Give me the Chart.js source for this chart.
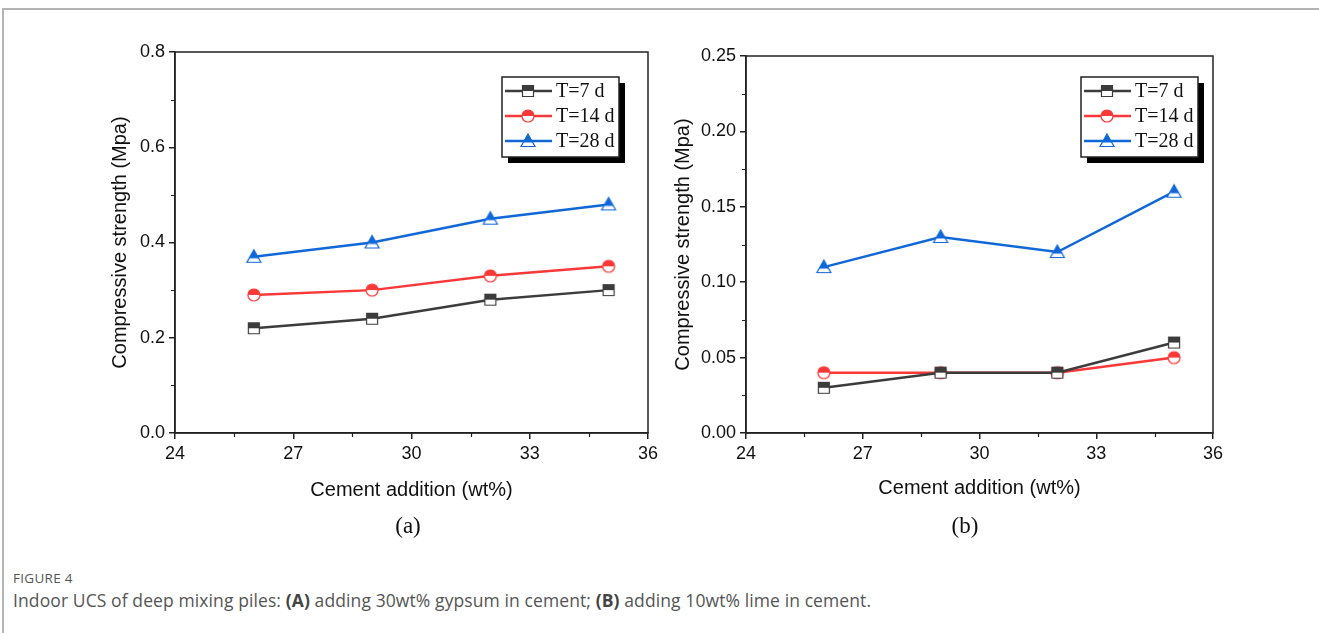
<!DOCTYPE html>
<html>
<head>
<meta charset="utf-8">
<title>Indoor UCS of deep mixing piles</title>
<script src="https://cdn.jsdelivr.net/npm/chart.js@4.4.1/dist/chart.umd.min.js"></script>
<style>
    body { margin: 0; background: #fff; }
    #page { position: relative; width: 1319px; height: 633px; overflow: hidden; }
    #frame { position: absolute; left: 2px; top: 8px; right: 0; bottom: 0; border-top: 2px solid #b4b4b4; border-left: 2px solid #b4b4b4; }
    canvas { position: absolute; }
    #chartA { left: 90px; top: 30px; }
    #chartB { left: 660px; top: 30px; }
    .panel { position: absolute; top: 513px; width: 60px; text-align: center; font: 23px 'Liberation Serif', serif; color: #111; }
    #figLabel { position: absolute; left: 13px; top: 569px; font: 13.5px 'Open Sans', sans-serif; color: #555; letter-spacing: 0.3px; }
    #figText { position: absolute; left: 13px; top: 588px; font: 17.5px 'Open Sans', sans-serif; color: #555; white-space: nowrap; letter-spacing: 0.1px; }
    #figText b { color: #444; }
</style>
</head>
<body>
<div id="page">
    <div id="frame"></div>
    <canvas id="chartA" width="580" height="490"></canvas>
    <canvas id="chartB" width="580" height="490"></canvas>
    <div class="panel" style="left:378px">(a)</div>
    <div class="panel" style="left:935px">(b)</div>
    <div id="figLabel">FIGURE 4</div>
    <div id="figText">Indoor UCS of deep mixing piles: <b>(A)</b> adding 30wt% gypsum in cement; <b>(B)</b> adding 10wt% lime in cement.</div>
</div>
<script>
// Curing times and cement dosages
const seriesLabels = ['T=7 d', 'T=14 d', 'T=28 d'];
const cementAddition = [26, 29, 32, 35];

// (a) 30wt% gypsum in cement, UCS in MPa
const gypsum7d = [0.22, 0.24, 0.28, 0.30];
const gypsum14d = [0.29, 0.30, 0.33, 0.35];
const gypsum28d = [0.37, 0.40, 0.45, 0.48];

// (b) 10wt% lime in cement, UCS in MPa
const lime7d = [0.03, 0.04, 0.04, 0.06];
const lime14d = [0.04, 0.04, 0.04, 0.05];
const lime28d = [0.11, 0.13, 0.12, 0.16];

// Axis ranges
const xRange = { min: 24, max: 36, step: 3 };
const yRangeA = { min: 0, max: 0.8, step: 0.2 };
const yRangeB = { min: 0, max: 0.25, step: 0.05 };

const seriesColors = ['#3c3c3c', '#fa3838', '#1068d8'];
const axisColor = '#222';

// Half-filled marker (top half solid, bottom half open) as an image
function makeMarker(shape, color) {
    const s = 18;
    const c = document.createElement('canvas');
    c.width = s; c.height = s;
    const ctx = c.getContext('2d');
    const cx = s / 2, cy = s / 2;

    function path() {
        ctx.beginPath();
        if (shape === 'square') {
            ctx.rect(cx - 5.5, cy - 5.5, 11, 11);
        } else if (shape === 'circle') {
            ctx.arc(cx, cy, 6, 0, Math.PI * 2);
        } else {
            ctx.moveTo(cx, cy - 7);
            ctx.lineTo(cx + 7, cy + 5.5);
            ctx.lineTo(cx - 7, cy + 5.5);
            ctx.closePath();
        }
    }

    path();
    ctx.fillStyle = '#fff';
    ctx.fill();

    ctx.save();
    ctx.beginPath();
    ctx.rect(0, 0, s, shape === 'triangle' ? cy + 1.5 : cy);
    ctx.clip();
    path();
    ctx.fillStyle = color;
    ctx.fill();
    ctx.restore();

    path();
    ctx.lineWidth = 1.2;
    ctx.strokeStyle = color;
    ctx.stroke();
    return c;
}

const markers = [
    makeMarker('square', seriesColors[0]),
    makeMarker('circle', seriesColors[1]),
    makeMarker('triangle', seriesColors[2])
];

function toPoints(values) {
    return values.map((v, i) => ({ x: cementAddition[i], y: v }));
}

function buildDatasets(series) {
    return series.map((values, i) => ({
        label: seriesLabels[i],
        data: toPoints(values),
        borderColor: seriesColors[i],
        backgroundColor: seriesColors[i],
        borderWidth: 2.5,
        pointStyle: markers[i],
        pointRadius: 6,
        tension: 0
    }));
}

// Closed frame around the plot area plus minor ticks on x and y
const framePlugin = {
    id: 'frame',
    afterDraw(chart, args, opts) {
        const { ctx, chartArea } = chart;
        ctx.save();
        ctx.strokeStyle = axisColor;
        ctx.lineWidth = 1.5;
        ctx.strokeRect(chartArea.left, chartArea.top, chartArea.right - chartArea.left, chartArea.bottom - chartArea.top);

        // minor ticks halfway between the labelled ones
        const xs = chart.scales.x, ys = chart.scales.y;
        ctx.lineWidth = 1.2;
        ctx.beginPath();
        for (let v = xs.min + opts.xMinor; v < xs.max; v += opts.xMinor * 2) {
            const px = Math.round(xs.getPixelForValue(v)) + 0.5;
            ctx.moveTo(px, chartArea.bottom);
            ctx.lineTo(px, chartArea.bottom + 4);
        }
        for (let v = ys.min + opts.yMinor; v < ys.max; v += opts.yMinor * 2) {
            const py = Math.round(ys.getPixelForValue(v)) + 0.5;
            ctx.moveTo(chartArea.left, py);
            ctx.lineTo(chartArea.left - 4, py);
        }
        ctx.stroke();
        ctx.restore();
    }
};

// Boxed legend with drop shadow in the upper right of the plot
const boxLegendPlugin = {
    id: 'boxLegend',
    afterDraw(chart, args, opts) {
        const { ctx, chartArea } = chart;
        const w = 117, h = 80, shadow = 6;
        const x = chartArea.right - opts.right - w;
        const y = chartArea.top + opts.top;

        ctx.save();
        ctx.fillStyle = '#000';
        ctx.fillRect(x + shadow, y + shadow, w, h);
        ctx.fillStyle = '#fff';
        ctx.fillRect(x, y, w, h);
        ctx.strokeStyle = axisColor;
        ctx.lineWidth = 1.5;
        ctx.strokeRect(x, y, w, h);

        ctx.font = "20px 'Liberation Serif'";
        ctx.textBaseline = 'middle';
        chart.data.datasets.forEach((ds, i) => {
            const rowY = y + 14 + i * 25;
            ctx.strokeStyle = ds.borderColor;
            ctx.lineWidth = 2.5;
            ctx.beginPath();
            ctx.moveTo(x + 3, rowY);
            ctx.lineTo(x + 50, rowY);
            ctx.stroke();
            const img = ds.pointStyle;
            ctx.drawImage(img, x + 26 - img.width / 2, rowY - img.height / 2);
            ctx.fillStyle = '#111';
            ctx.fillText(ds.label, x + 54, rowY + 1);
        });
        ctx.restore();
    }
};

function axisOptions(range, decimals, layout) {
    const tickFont = { family: 'Liberation Sans', size: 18 };
    const titleFont = { family: 'Liberation Sans', size: 20 };
    return {
        x: {
            type: 'linear',
            min: xRange.min,
            max: xRange.max,
            afterFit: s => { s.height = layout.xHeight; },
            ticks: { stepSize: xRange.step, font: tickFont, color: '#111', padding: 4, maxRotation: 0 },
            grid: { drawOnChartArea: false, tickLength: 6, color: axisColor, lineWidth: 1.5 },
            border: { display: true, color: axisColor, width: 1.5 },
            title: { display: true, text: 'Cement addition (wt%)', font: titleFont, color: '#111', padding: { top: 0, bottom: layout.xTitlePad } }
        },
        y: {
            min: range.min,
            max: range.max,
            afterFit: s => { s.width = layout.yWidth; },
            ticks: {
                stepSize: range.step,
                font: tickFont,
                color: '#111',
                padding: 4,
                callback: v => Number(v).toFixed(decimals)
            },
            grid: { drawOnChartArea: false, tickLength: 6, color: axisColor, lineWidth: 1.5 },
            border: { display: true, color: axisColor, width: 1.5 },
            title: { display: true, text: 'Compressive strength (Mpa)', font: titleFont, color: '#111', padding: { top: layout.yTitlePad, bottom: 0 } }
        }
    };
}

function renderChart(canvasId, series, range, decimals, layout, legendPos) {
    new Chart(document.getElementById(canvasId), {
        type: 'line',
        data: { datasets: buildDatasets(series) },
        options: {
            responsive: false,
            animation: false,
            devicePixelRatio: 1,
            layout: { padding: layout.padding },
            scales: axisOptions(range, decimals, layout),
            plugins: {
                legend: { display: false },
                tooltip: { enabled: false },
                frame: { xMinor: 1.5, yMinor: range.step / 2 },
                boxLegend: legendPos
            }
        },
        plugins: [framePlugin, boxLegendPlugin]
    });
}

renderChart('chartA', [gypsum7d, gypsum14d, gypsum28d], yRangeA, 1,
    { padding: { top: 22, right: 22, bottom: 0, left: 0 }, xHeight: 87, yWidth: 85, xTitlePad: 18, yTitlePad: 18 },
    { right: 29, top: 25 });

renderChart('chartB', [lime7d, lime14d, lime28d], yRangeB, 2,
    { padding: { top: 26, right: 27, bottom: 0, left: 0 }, xHeight: 87, yWidth: 86, xTitlePad: 20, yTitlePad: 11 },
    { right: 15, top: 21 });
</script>
</body>
</html>
